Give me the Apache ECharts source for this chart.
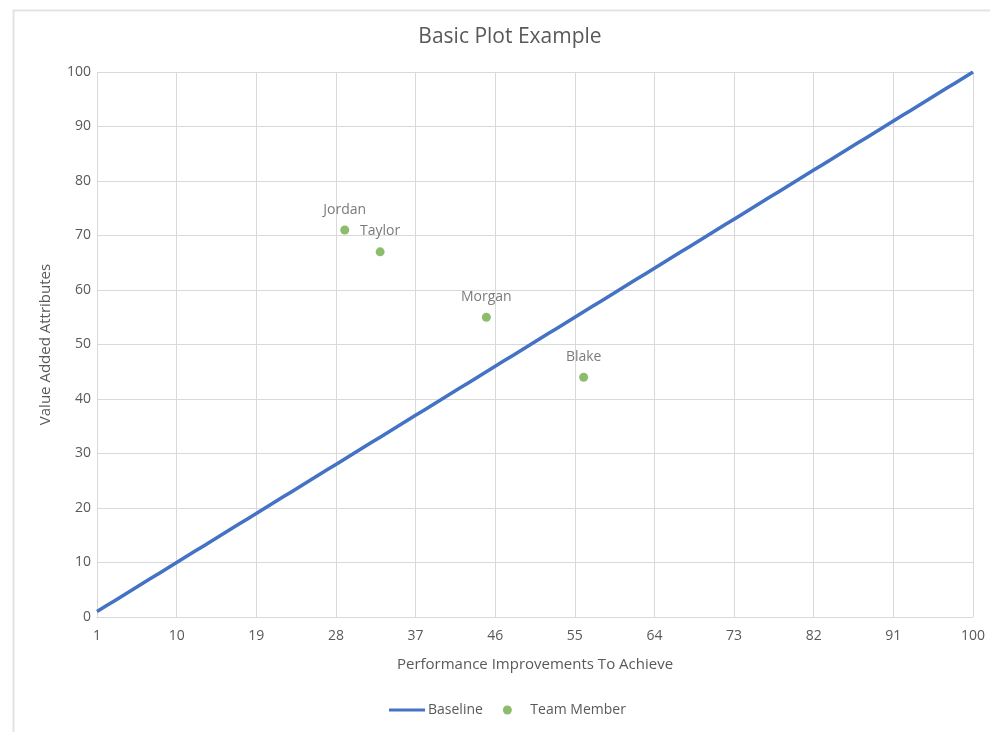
<!DOCTYPE html>
<html>
<head>
<meta charset="utf-8">
<script src="https://cdn.jsdelivr.net/npm/echarts@6/dist/echarts.min.js"></script>
<style>
  html, body { margin: 0; padding: 0; background: #fff; }
</style>
</head>
<body>
<div id="main" style="width: 990px;height:732px;"></div>
<script>
// x categories 1..100
var categories = [];
for (var i = 1; i <= 100; i++) categories.push(String(i));

// baseline values
var baseline = [
  1, 2, 3, 4, 5, 6, 7, 8, 9, 10,
  11, 12, 13, 14, 15, 16, 17, 18, 19, 20,
  21, 22, 23, 24, 25, 26, 27, 28, 29, 30,
  31, 32, 33, 34, 35, 36, 37, 38, 39, 40,
  41, 42, 43, 44, 45, 46, 47, 48, 49, 50,
  51, 52, 53, 54, 55, 56, 57, 58, 59, 60,
  61, 62, 63, 64, 65, 66, 67, 68, 69, 70,
  71, 72, 73, 74, 75, 76, 77, 78, 79, 80,
  81, 82, 83, 84, 85, 86, 87, 88, 89, 90,
  91, 92, 93, 94, 95, 96, 97, 98, 99, 100
];

// team members
var memberNames = ["Jordan", "Taylor", "Morgan", "Blake"];
var memberX = ["29", "33", "45", "56"];
var memberY = [71, 67, 55, 44];

var yTicks = { min: 0, max: 100, interval: 10 };

var textColor = "#595959";
var fontFamily = "'Open Sans', 'Liberation Sans', sans-serif";

var chartDom = document.getElementById("main");
var myChart = echarts.init(chartDom, null, { renderer: "canvas" });

var members = memberNames.map(function (n, i) {
  return { name: n, value: [memberX[i], memberY[i]] };
});

var option = {
  backgroundColor: "#fff",
  animation: false,
  textStyle: { fontFamily: fontFamily },
  // outer chart frame
  graphic: [
    {
      type: "rect",
      left: 11, top: 8,
      shape: { width: 1000, height: 760 },
      style: { fill: "none", stroke: "#e3e3e3", lineWidth: 2 },
      silent: true,
    },
  ],
  title: {
    text: "Basic Plot Example",
    left: 505,
    textAlign: "center",
    top: 22,
    textStyle: { color: textColor, fontSize: 21, fontWeight: "normal", fontFamily: fontFamily },
  },
  legend: {
    bottom: 10,
    left: 384,
    itemGap: 20,
    itemWidth: 36,
    itemHeight: 9,
    textStyle: { color: textColor, fontSize: 14, padding: [0, 0, 0, -2] },
    data: [
      { name: "Baseline", icon: "path://M0,0 L36,0 L36,3 L0,3 Z", itemStyle: { color: "#4472C4" } },
      { name: "Team Member", icon: "circle", textStyle: { padding: [0, 0, 0, 0] } },
    ],
  },
  grid: { left: 97, right: 17, top: 72, bottom: 115, containLabel: false },
  xAxis: {
    type: "category",
    data: categories,
    boundaryGap: false,
    name: "Performance Improvements To Achieve",
    nameLocation: "middle",
    nameGap: 40,
    nameTextStyle: { color: textColor, fontSize: 15 },
    axisLine: { lineStyle: { color: "#d9d9d9" } },
    axisTick: { show: false },
    axisLabel: { interval: 8, color: textColor, fontSize: 14, margin: 12 },
    splitLine: { show: true, interval: 8, lineStyle: { color: "#d9d9d9" } },
  },
  yAxis: {
    type: "value",
    min: yTicks.min,
    max: yTicks.max,
    interval: yTicks.interval,
    name: "Value Added Attributes",
    nameLocation: "middle",
    nameGap: 44,
    nameTextStyle: { color: textColor, fontSize: 15 },
    axisLine: { show: false },
    axisTick: { show: false },
    axisLabel: { color: textColor, fontSize: 14, margin: 6 },
    splitLine: { lineStyle: { color: "#d9d9d9" } },
  },
  series: [
    {
      name: "Baseline",
      type: "line",
      data: baseline,
      showSymbol: false,
      symbol: "none",
      lineStyle: { color: "#4472C4", width: 3.5 },
      itemStyle: { color: "#4472C4" },
      z: 2,
    },
    {
      name: "Team Member",
      type: "scatter",
      data: members,
      symbolSize: 9,
      itemStyle: { color: "#70AD47" },
      label: {
        show: true,
        position: "top",
        distance: 9,
        formatter: "{b}",
        color: textColor,
        fontSize: 14,
      },
      z: 3,
    },
  ],
};
option && myChart.setOption(option);
</script>
</body>
</html>
